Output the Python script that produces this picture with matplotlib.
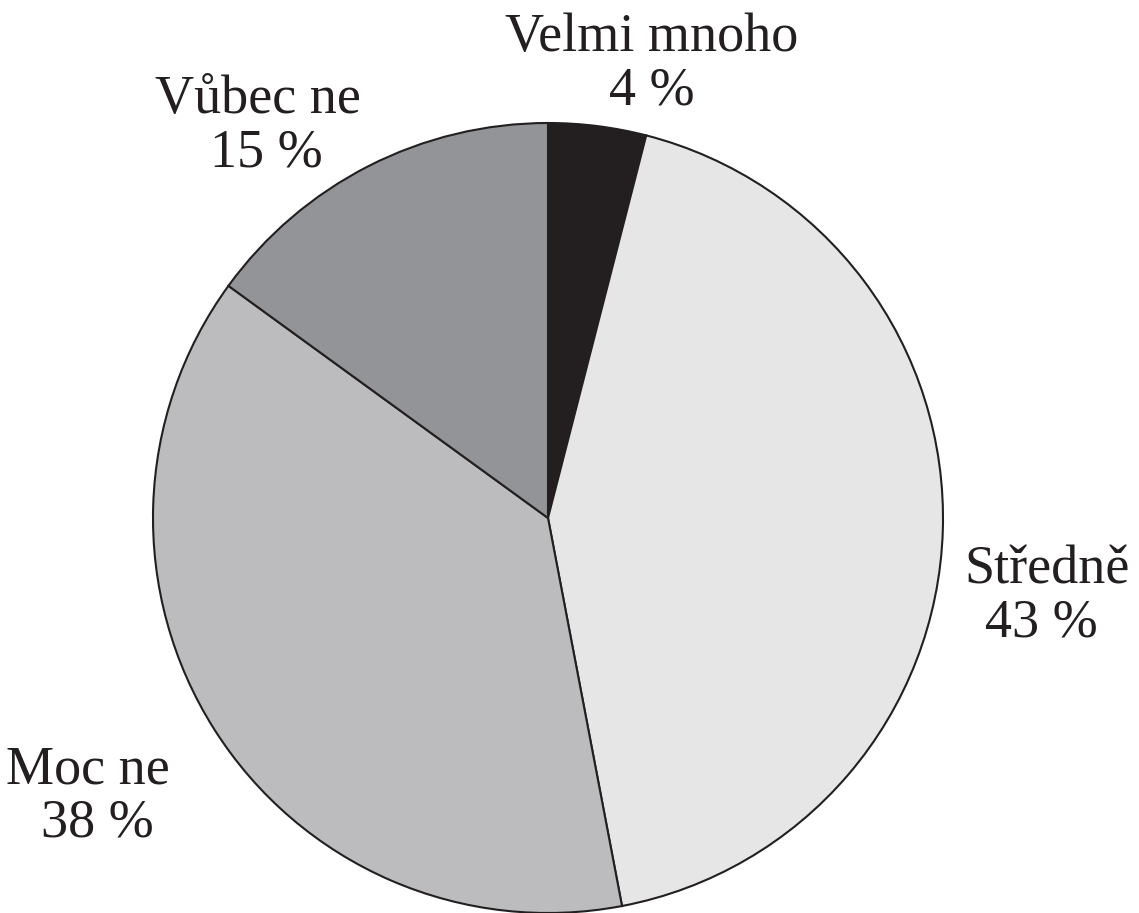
import matplotlib.pyplot as plt

### DATA ###
LABELS = ["Velmi mnoho", "Středně", "Moc ne", "Vůbec ne"]
SHARES = [4, 43, 38, 15]
COLORS = ["#231f20", "#e6e6e6", "#bcbcbe", "#939497"]

# label anchor (x, y) in pixels from top-left, per slice
LABEL_POS = [(652, 38), (1047, 570), (88, 770), (258, 100)]
PCT_POS = [(652, 91), (1041, 623), (97, 823), (266, 153)]

W, H = 1139, 913

fig = plt.figure(figsize=(W / 100, H / 100), dpi=100)
ax = fig.add_axes([0, 0, 1, 1])

# pie drawn clockwise starting at the top
ax.pie(SHARES, colors=COLORS, startangle=90, counterclock=False,
       center=(548, H - 518), radius=395, frame=True,
       wedgeprops=dict(edgecolor="#231f20", linewidth=1.5))
ax.set_xlim(0, W)
ax.set_ylim(0, H)
ax.set_aspect("equal")
ax.axis("off")

font = dict(family="Liberation Serif", fontsize=39, color="#231f20",
            ha="center", va="center")
for name, pct, (lx, ly), (px, py) in zip(LABELS, SHARES, LABEL_POS, PCT_POS):
    ax.text(lx, H - ly, name, **font)
    ax.text(px, H - py, f"{pct} %", **font)

fig.savefig("out.png", dpi=100)
